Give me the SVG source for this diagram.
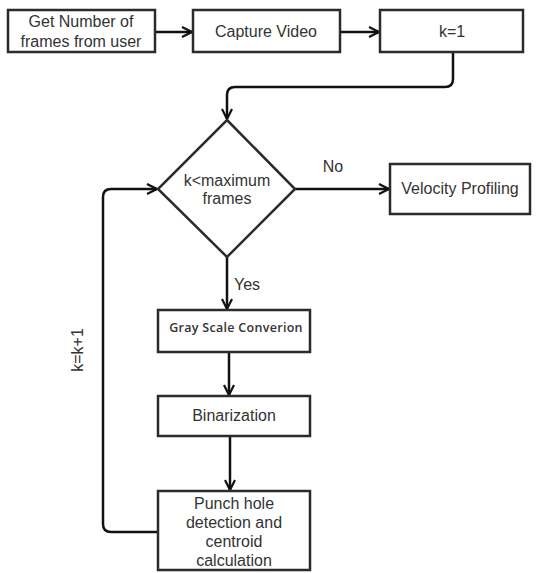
<svg xmlns="http://www.w3.org/2000/svg" width="538" height="573" viewBox="0 0 538 573">
<style>
.box{fill:#fff;stroke:#2b2b2b;stroke-width:2.5}
.t{font-family:"Liberation Sans",Arial,sans-serif;font-size:16px;fill:#333;text-anchor:middle}
.s{font-family:"Open Sans","Liberation Sans",sans-serif;font-size:12.5px;font-weight:600;letter-spacing:0.3px;fill:#333;text-anchor:middle}
.c{fill:none;stroke:#111;stroke-width:2.5}
</style>
<defs>
<marker id="a" viewBox="0 0 12 12" refX="11" refY="6" markerWidth="12" markerHeight="12" markerUnits="userSpaceOnUse" orient="auto">
<path d="M1,1 L11,6 L1,11" fill="none" stroke="#111" stroke-width="2.2"/>
</marker>
</defs>
<rect width="538" height="573" fill="#fff"/>
<g id="connectors">
<path class="c" d="M155,32 H192" marker-end="url(#a)"/>
<path class="c" d="M340,32 H379" marker-end="url(#a)"/>
<path class="c" d="M453,52 V79 Q453,87 445,87 H235 Q227,87 227,95 V119" marker-end="url(#a)"/>
<path class="c" d="M295,189 H389" marker-end="url(#a)"/>
<path class="c" d="M227,256 V309" marker-end="url(#a)"/>
<path class="c" d="M229,352 V395" marker-end="url(#a)"/>
<path class="c" d="M230,436 V490" marker-end="url(#a)"/>
<path class="c" d="M158,532 H111 Q103,532 103,524 V197 Q103,189 111,189 H157" marker-end="url(#a)"/>
</g>
<g id="n1"><rect class="box" x="8" y="10" width="147" height="42"/><text class="t" x="81" y="27">Get Number of</text><text class="t" x="81" y="47">frames from user</text></g>
<g id="n2"><rect class="box" x="193" y="10" width="147" height="42"/><text class="t" x="266" y="37">Capture Video</text></g>
<g id="n3"><rect class="box" x="380" y="10" width="143" height="42"/><text class="t" x="452" y="37">k=1</text></g>
<g id="n4"><polygon class="box" points="227,120 295,189 227,257 158,189"/><text class="t" x="227" y="186">k&lt;maximum</text><text class="t" x="227" y="204">frames</text></g>
<g id="n5"><rect class="box" x="390" y="164" width="140" height="50"/><text class="t" x="460" y="194">Velocity Profiling</text></g>
<g id="n6"><rect class="box" x="158" y="310" width="152" height="42"/><text class="s" x="236" y="332">Gray Scale Converion</text></g>
<g id="n7"><rect class="box" x="158" y="396" width="152" height="40"/><text class="t" x="234" y="421">Binarization</text></g>
<g id="n8"><rect class="box" x="158" y="491" width="152" height="79"/><text class="t" x="234" y="509">Punch hole</text><text class="t" x="234" y="528">detection and</text><text class="t" x="234" y="547">centroid</text><text class="t" x="234" y="566">calculation</text></g>
<g id="labels">
<text class="t" x="333" y="172">No</text>
<text class="t" x="247" y="290">Yes</text>
<text class="t" transform="translate(83,350) rotate(-90)">k=k+1</text>
</g>
</svg>
